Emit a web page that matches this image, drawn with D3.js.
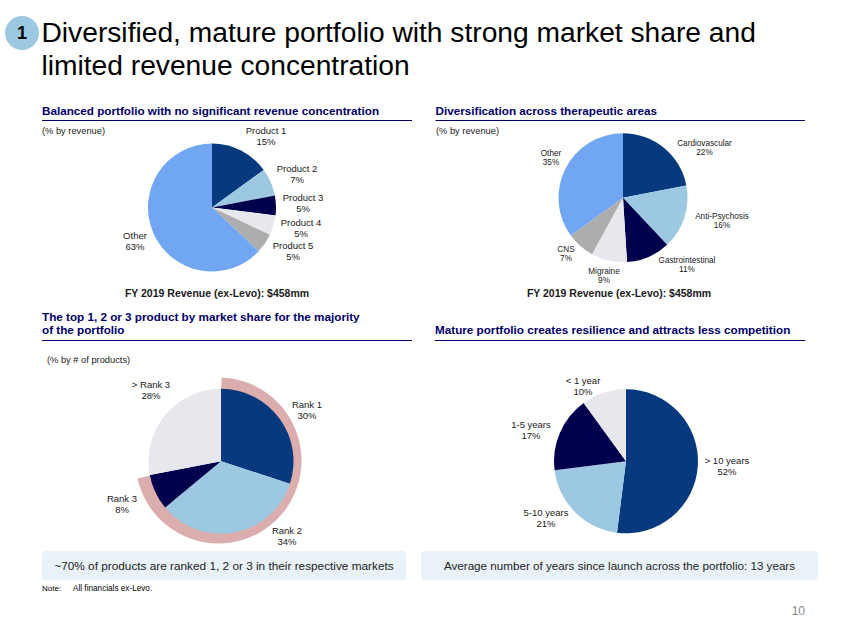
<!DOCTYPE html>
<html><head><meta charset="utf-8">
<script src="https://cdnjs.cloudflare.com/ajax/libs/d3/7.8.5/d3.min.js"></script>
<style>html,body{margin:0;padding:0;background:#fff}svg{display:block}text{font-family:"Liberation Sans",Arial,sans-serif}</style>
</head><body><svg id="c" width="847" height="635"></svg>
<script>
// Data
const titleLines = ["Diversified, mature portfolio with strong market share and","limited revenue concentration"];
const productCats = ["Product 1","Product 2","Product 3","Product 4","Product 5","Other"];
const productVals = [15,7,5,5,5,63];
const areaCats = ["Cardiovascular","Anti-Psychosis","Gastrointestinal","Migraine","CNS","Other"];
const areaVals = [22,16,11,9,7,35];
const rankCats = ["Rank 1","Rank 2","Rank 3","> Rank 3"];
const rankVals = [30,34,8,28];
const ageCats = ["> 10 years","5-10 years","1-5 years","< 1 year"];
const ageVals = [52,21,17,10];
const rankedTotal = 72; // share covered by the highlighted ring

// Layout (separate from the data)
const C = {dark:"#07397f",light:"#9dc8e2",navy:"#00004d",pale:"#e6e8ee",gray:"#adadad",blue:"#71a7f2",ring:"#dbadad",head:"#00006b",box:"#e9f2f9"};
const sixColors=[C.dark,C.light,C.navy,C.pale,C.gray,C.blue], fourColors=[C.dark,C.light,C.navy,C.pale];
const charts=[
 {cats:productCats,vals:productVals,colors:sixColors,cx:212,cy:207.5,r:64,fs:9.5,lh:10.5,
  lab:[[266,131],[297,169],[303,198],[301,223],[293,246],[135,236]]},
 {cats:areaCats,vals:areaVals,colors:sixColors,cx:623,cy:197.7,r:64.5,fs:8.2,lh:9.6,
  lab:[[704.5,143],[722,216],[687,260],[604,271],[566,249],[551,153]]},
 {cats:rankCats,vals:rankVals,colors:fourColors,cx:221,cy:461.3,r:72.5,fs:9.5,lh:10.5,
  lab:[[307,405],[287,531],[122,499],[151,385]]},
 {cats:ageCats,vals:ageVals,colors:fourColors,cx:626,cy:461.3,r:72,fs:9.5,lh:10.5,
  lab:[[727,461],[546,513],[531,425],[583,381]]}
];
const svg=d3.select("#c");
function t(x,y,s,o={}){return svg.append("text").attr("x",x).attr("y",y).attr("dy",".35em").text(s)
  .attr("font-size",o.fs||10).attr("font-weight",o.w||"normal").attr("fill",o.c||"#1a1a1a").attr("text-anchor",o.a||"start");}

// Title block
svg.append("circle").attr("cx",22).attr("cy",33).attr("r",17).attr("fill",C.light);
t(22,33,"1",{fs:18,w:"bold",a:"middle",c:"#000"});
titleLines.forEach((l,i)=>t(41.5,32.5+i*32.5,l,{fs:28.2,c:"#000"}));

// Section headers
const heads=[
 {x:42,lines:[[111,"Balanced portfolio with no significant revenue concentration"]],rule:120.5,x2:412},
 {x:435.5,lines:[[111,"Diversification across therapeutic areas"]],rule:120.5,x2:805},
 {x:42,lines:[[317,"The top 1, 2 or 3 product by market share for the majority"],[330,"of the portfolio"]],rule:340.5,x2:412},
 {x:435,lines:[[330,"Mature portfolio creates resilience and attracts less competition"]],rule:340.5,x2:805}
];
heads.forEach(h=>{
  h.lines.forEach(([y,s])=>t(h.x,y,s,{fs:11.7,w:"bold",c:C.head}));
  svg.append("line").attr("x1",h.x).attr("x2",h.x2).attr("y1",h.rule).attr("y2",h.rule).attr("stroke",C.head).attr("stroke-width",1);
});
t(42,131,"(% by revenue)",{fs:9.3});
t(436,130.5,"(% by revenue)",{fs:9.3});
t(47,359.5,"(% by # of products)",{fs:9.3});
t(217,293,"FY 2019 Revenue (ex-Levo): $458mm",{fs:10.5,w:"bold",a:"middle"});
t(619,293,"FY 2019 Revenue (ex-Levo): $458mm",{fs:10.5,w:"bold",a:"middle"});

// Ring behind rank pie: its circle sits slightly off the pie's centre
const rc=charts[2];
const ang=d3.scaleLinear().domain([0,100]).range([0,2*Math.PI]);
svg.append("path").attr("transform",`translate(${rc.cx-2.5},${rc.cy-0.8})`).attr("fill",C.ring)
  .attr("d",d3.arc()({innerRadius:60,outerRadius:83,startAngle:ang(0.6),endAngle:ang(rankedTotal-0.5)}));

// Pies
charts.forEach(ch=>{
  const arcs=d3.pie().sort(null)(ch.vals);
  const arc=d3.arc().innerRadius(0).outerRadius(ch.r);
  svg.append("g").attr("transform",`translate(${ch.cx},${ch.cy})`)
    .selectAll("path").data(arcs).join("path").attr("d",arc).attr("fill",(d,i)=>ch.colors[i]);
  ch.cats.forEach((c,i)=>{
    const [x,y]=ch.lab[i];
    t(x,y,c,{fs:ch.fs,a:"middle"});
    t(x,y+ch.lh,ch.vals[i]+"%",{fs:ch.fs,a:"middle"});
  });
});

// Callouts
[[42,364,11.8,"~70% of products are ranked 1, 2 or 3 in their respective markets"],
 [421,397,11.65,"Average number of years since launch across the portfolio: 13 years"]].forEach(([x,w,fs,s])=>{
  svg.append("rect").attr("x",x).attr("y",551).attr("width",w).attr("height",29).attr("rx",4).attr("fill",C.box);
  t(x+w/2,565.5,s,{fs:fs,a:"middle",c:"#222"});
});
t(42,588,"Note:",{fs:8,c:"#000"});
t(73,588,"All financials ex-Levo.",{fs:8.2,c:"#000"});
t(805,611,"10",{fs:12,a:"end",c:"#888"});
</script></body></html>
